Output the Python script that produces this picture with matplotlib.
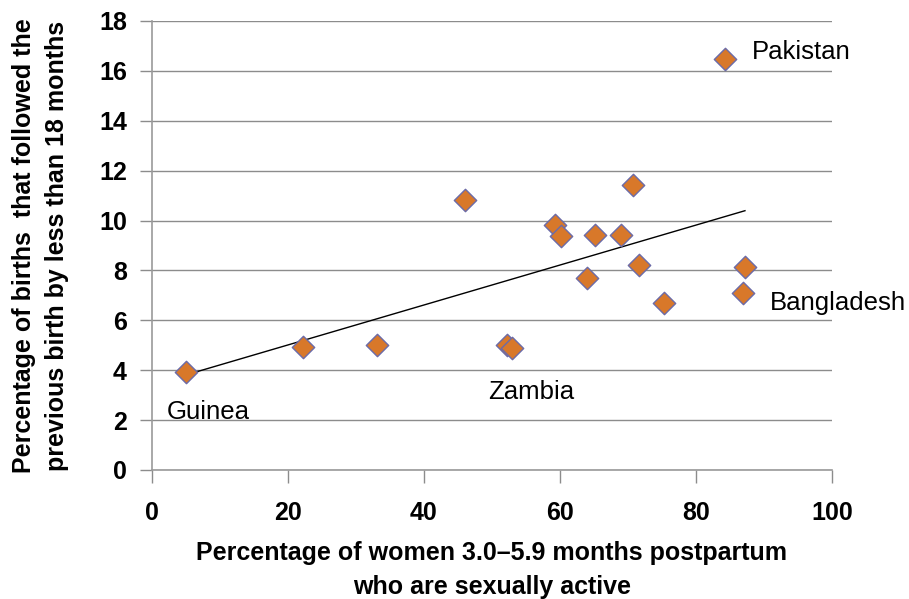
import numpy as np
import matplotlib.pyplot as plt

plt.rcParams["font.family"] = ["Liberation Sans", "DejaVu Sans"]

# share of women 3.0-5.9 months postpartum who are sexually active (%)
active_pct = [4.95, 22.2, 33.1, 52.2, 52.9, 46.1, 59.2, 60.1, 65.1, 68.9,
              70.7, 71.6, 63.9, 84.2, 87.2, 86.9, 75.3]
# share of births following the previous birth by < 18 months (%)
short_interval_pct = [3.94, 4.92, 5.01, 5.0, 4.9, 10.83, 9.82, 9.39, 9.41, 9.41,
                      11.42, 8.23, 7.70, 16.48, 8.15, 7.11, 6.71]

countries = ["Pakistan", "Bangladesh", "Zambia", "Guinea"]
label_x = [88.2, 90.9, 49.4, 2.2]
label_y = [16.76, 6.7, 3.13, 2.33]

fig = plt.figure(figsize=(9.09, 5.99), dpi=100)
ax = fig.add_axes([0.1672, 0.2154, 0.7481, 0.7496])

# linear trend
slope, intercept = np.polyfit(active_pct, short_interval_pct, 1)
tx = np.array([min(active_pct), max(active_pct)])
ax.plot(tx, slope * tx + intercept, color="black", lw=1, zorder=2)

ax.scatter(active_pct, short_interval_pct, marker="D", s=130,
           facecolor="#D8782A", edgecolor="#6B6BA8", linewidth=1, zorder=3)

for name, lx, ly in zip(countries, label_x, label_y):
    ax.text(lx, ly, name, fontsize=18.5, va="center", ha="left", color="black")

ax.set_xlim(0, 100)
ax.set_ylim(0, 18)
ax.set_xticks(range(0, 101, 20))
ax.set_yticks(range(0, 19, 2))
ax.yaxis.grid(True, color="#8c8c8c", lw=1)
ax.set_axisbelow(True)

for side in ["top", "right"]:
    ax.spines[side].set_visible(False)
for side in ["left", "bottom"]:
    ax.spines[side].set_color("#9a9a9a")
    ax.spines[side].set_linewidth(1.2)

ax.tick_params(axis="both", colors="#8c8c8c", labelcolor="black",
               labelsize=18, length=9, width=1)
ax.tick_params(axis="x", pad=13)
ax.tick_params(axis="y", pad=9)
for lbl in ax.get_xticklabels() + ax.get_yticklabels():
    lbl.set_fontweight("bold")

ax.set_xlabel("Percentage of women 3.0\u20135.9 months postpartum\nwho are sexually active",
              fontsize=18, fontweight="bold", linespacing=1.5, labelpad=12)
ax.set_ylabel("Percentage of births  that followed the\nprevious birth by less than 18 months",
              fontsize=18, fontweight="bold", linespacing=1.45, labelpad=22)

fig.savefig("out.png", dpi=100)
